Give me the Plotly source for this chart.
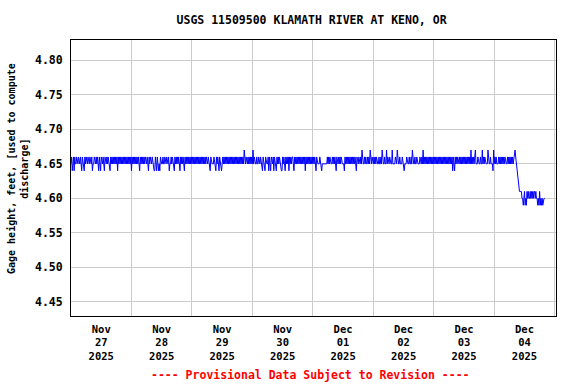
import pandas as pd
import plotly.graph_objects as go

# Gage height readings every 15 minutes, one string per day.
# Each character is the last digit of the hundredths of the reading:
# '9' = 4.59, '0' = 4.60, '1' = 4.61, ... '7' = 4.67
DAY_NOV27 = ("56456465" "56556556" "54654465" "65565565" "56455655" "65644654"
             "65565465" "56565546" "56565656" "56465656" "56565656" "56565656")
DAY_NOV28 = ("46565656" "56565465" "65656565" "56546565" "56554465" "46545465"
             "55655655" "65564556" "56544656" "56565465" "65654656" "56565656")
DAY_NOV29 = ("56565656" "56565656" "56565656" "55655465" "55565546" "56446544"
             "56565656" "56565656" "56565656" "56565656" "56576565" "56565656")
DAY_NOV30 = ("57565556" "55655655" "46554655" "56465465" "56465546" "56565544"
             "65654656" "56465656" "65465656" "56565656" "56564656" "56565656")
DAY_DEC01 = ("56565465" "55565545" "55555556" "56565556" "56565465" "56565655"
             "55465656" "56565656" "56565465" "56556575" "55656556" "56575565")
DAY_DEC02 = ("56565655" "56556575" "55655756" "55655575" "55565575" "55655565"
             "54555655" "56556575" "55655655" "55655657" "56565656" "56565656")
DAY_DEC03 = ("56565656" "56565656" "56565656" "56565646" "54656565" "56565656"
             "56565656" "56575656" "56755565" "55655756" "56555575" "55655547")
DAY_DEC04 = ("56565556" "56565656" "56555656" "56565656" "67655432" "11110090"
             "19091010" "01010101" "10100909" "19090900" "0")

DIGIT_VALUE = {"9": 4.59, "0": 4.60, "1": 4.61, "2": 4.62, "3": 4.63,
               "4": 4.64, "5": 4.65, "6": 4.66, "7": 4.67}

START_TIME = "2025-11-27 00:00"
X_RANGE = ["2025-11-27 00:00", "2025-12-05 00:30"]
Y_RANGE = [4.4295, 4.8295]
Y_TICKS = [4.45, 4.50, 4.55, 4.60, 4.65, 4.70, 4.75, 4.80]
Y_TICK_LABELS = ["4.45", "4.50", "4.55", "4.60", "4.65", "4.70", "4.75", "4.80"]

TITLE = "USGS 11509500 KLAMATH RIVER AT KENO, OR"
Y_TITLE = "Gage height, feet, [used to compute<br>discharge]"
NOTE = "---- Provisional Data Subject to Revision ----"

codes = (DAY_NOV27 + DAY_NOV28 + DAY_NOV29 + DAY_NOV30 +
         DAY_DEC01 + DAY_DEC02 + DAY_DEC03 + DAY_DEC04)
values = [DIGIT_VALUE[c] for c in codes]
times = pd.date_range(START_TIME, periods=len(values), freq="15min")

FONT = "DejaVu Sans Mono"

fig = go.Figure()
fig.add_trace(go.Scatter(x=times, y=values, mode="lines",
                         line=dict(color="#0000ff", width=1),
                         hoverinfo="skip", showlegend=False))

fig.update_layout(
    width=576, height=384,
    margin=dict(l=71, r=20, t=40, b=68, autoexpand=False),
    paper_bgcolor="white", plot_bgcolor="white",
    title=dict(text=TITLE, xref="paper", x=0.496, xanchor="center",
               yref="container", y=1 - 20 / 384, yanchor="middle",
               font=dict(family=FONT, size=11.5, color="black", weight="bold")),
)

fig.update_xaxes(
    type="date", range=X_RANGE, tick0="2025-11-27", dtick=86400000,
    tickformat="%b<br>%d<br>%Y", ticklabelmode="period",
    showgrid=True, gridcolor="#cccccc", gridwidth=1,
    showline=True, linecolor="black", linewidth=1, mirror=True,
    ticks="outside", ticklen=3, tickcolor="rgba(0,0,0,0)",
    tickfont=dict(family=FONT, size=10.5, color="black", weight="bold"),
    zeroline=False,
)
fig.update_yaxes(
    range=Y_RANGE, tickmode="array", tickvals=Y_TICKS, ticktext=Y_TICK_LABELS,
    showgrid=True, gridcolor="#cccccc", gridwidth=1,
    showline=True, linecolor="black", linewidth=1, mirror=True,
    ticks="outside", ticklen=5, tickcolor="rgba(0,0,0,0)",
    tickfont=dict(family=FONT, size=11.5, color="black", weight="bold"),
    zeroline=False,
)

fig.add_annotation(text=Y_TITLE, textangle=-90, xref="paper", yref="paper",
                   x=(18 - 71) / 485, y=(316 - 169) / 276,
                   xanchor="center", yanchor="middle", showarrow=False,
                   font=dict(family=FONT, size=10, color="black", weight="bold"))
fig.add_annotation(text=NOTE, xref="paper", yref="paper",
                   x=(310 - 71) / 485, y=(316 - 375) / 276,
                   xanchor="center", yanchor="middle", showarrow=False,
                   font=dict(family=FONT, size=11.5, color="#ff0000", weight="bold"))

fig.write_html("out.html", config={"displayModeBar": False},
               post_script="document.body.style.margin='0';")
